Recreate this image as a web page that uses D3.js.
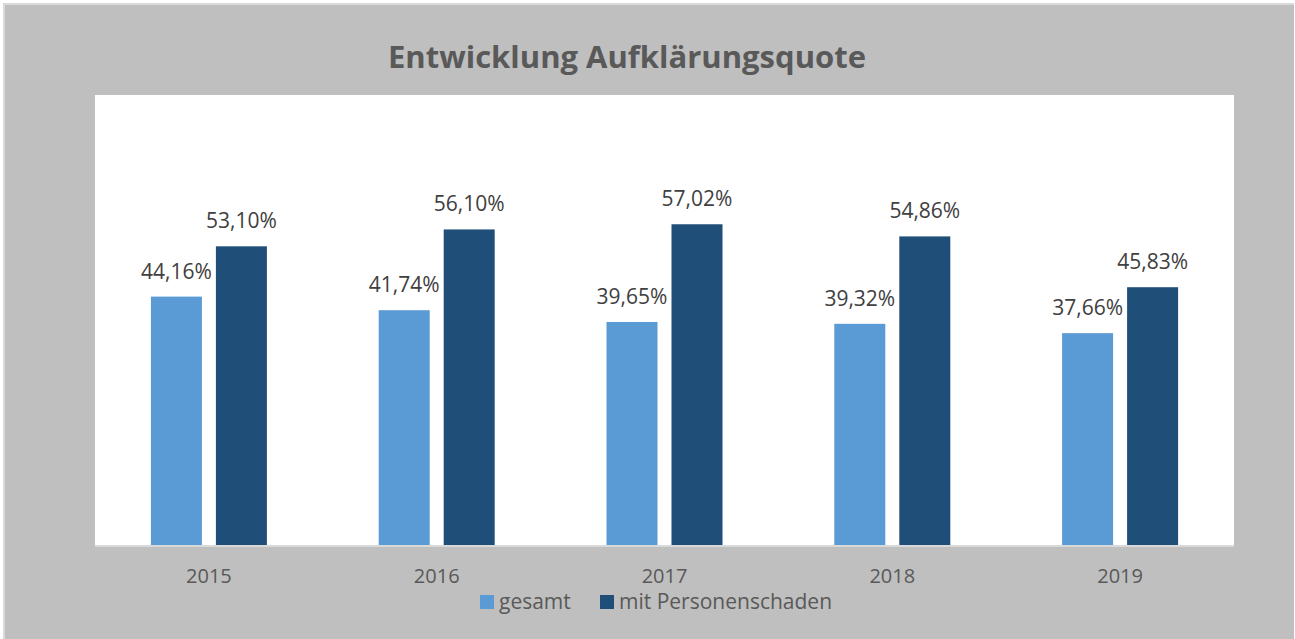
<!DOCTYPE html>
<html>
<head>
<meta charset="utf-8">
<script src="https://cdn.jsdelivr.net/npm/d3@7"></script>
<style>
  body { margin: 0; background: #ffffff; }
  svg { display: block; font-family: "Open Sans", sans-serif; }
</style>
</head>
<body>
<div id="chart"></div>
<script>
const years = ["2015", "2016", "2017", "2018", "2019"];
const seriesNames = ["gesamt", "mit Personenschaden"];
const gesamt = [44.16, 41.74, 39.65, 39.32, 37.66];
const personenschaden = [53.10, 56.10, 57.02, 54.86, 45.83];
const colors = ["#5b9bd5", "#1f4e79"];

const W = 1295, H = 639;
const plot = {left: 95, top: 95, right: 1234, bottom: 545};

const svg = d3.select("#chart").append("svg")
    .attr("width", W)
    .attr("height", H);

// outer frame
svg.append("rect")
    .attr("x", 3).attr("y", 3)
    .attr("width", W - 4).attr("height", H - 3)
    .attr("fill", "#d9d9d9");
svg.append("rect")
    .attr("x", 5).attr("y", 5)
    .attr("width", W - 6).attr("height", H - 5)
    .attr("fill", "#bfbfbf");

// plot area
svg.append("rect")
    .attr("x", plot.left).attr("y", plot.top)
    .attr("width", plot.right - plot.left)
    .attr("height", plot.bottom - plot.top)
    .attr("fill", "#ffffff");

const x = d3.scaleBand()
    .domain(years)
    .range([plot.left, plot.right]);

const y = d3.scaleLinear()
    .domain([0, 80])
    .range([plot.bottom, plot.top]);

const barW = 51, gap = 14;

const data = years.map((yr, i) => ({year: yr, values: [gesamt[i], personenschaden[i]]}));

const groups = svg.append("g").selectAll("g")
    .data(data)
    .join("g")
    .attr("transform", d => "translate(" + (x(d.year) + x.bandwidth() / 2) + ",0)");

groups.selectAll("rect")
    .data(d => d.values)
    .join("rect")
    .attr("x", (v, j) => j === 0 ? -gap / 2 - barW : gap / 2)
    .attr("y", v => y(v))
    .attr("width", barW)
    .attr("height", v => y(0) - y(v))
    .attr("fill", (v, j) => colors[j]);

groups.selectAll("text")
    .data(d => d.values)
    .join("text")
    .attr("x", (v, j) => j === 0 ? -gap / 2 - barW / 2 : gap / 2 + barW / 2)
    .attr("y", v => y(v) - 18)
    .attr("text-anchor", "middle")
    .attr("fill", "#404040")
    .style("font-size", "21px")
    .text(v => v.toFixed(2).replace(".", ",") + "%");

// axis
const xAxis = svg.append("g")
    .attr("transform", "translate(0," + plot.bottom + ")")
    .call(d3.axisBottom(x).tickSize(0));
xAxis.select(".domain")
    .attr("stroke", "#d9d9d9")
    .attr("stroke-width", 2)
    .attr("d", "M" + plot.left + ",1H" + plot.right);
xAxis.selectAll("text")
    .attr("y", 38)
    .attr("dy", null)
    .attr("fill", "#595959")
    .style("font-size", "20px")
    .style("font-family", "'Open Sans', sans-serif");

// title
svg.append("text")
    .attr("x", 627)
    .attr("y", 68)
    .attr("text-anchor", "middle")
    .attr("fill", "#595959")
    .style("font-size", "31px")
    .style("font-weight", "bold")
    .text("Entwicklung Aufklärungsquote");

// legend
const legendX = [480, 600];
const legend = svg.append("g").selectAll("g")
    .data(seriesNames)
    .join("g")
    .attr("transform", (d, i) => "translate(" + legendX[i] + ",595)");
legend.append("rect")
    .attr("width", 14).attr("height", 14)
    .attr("fill", (d, i) => colors[i]);
legend.append("text")
    .attr("x", 19)
    .attr("y", 14)
    .attr("fill", "#595959")
    .style("font-size", "21px")
    .text(d => d);
</script>
</body>
</html>
